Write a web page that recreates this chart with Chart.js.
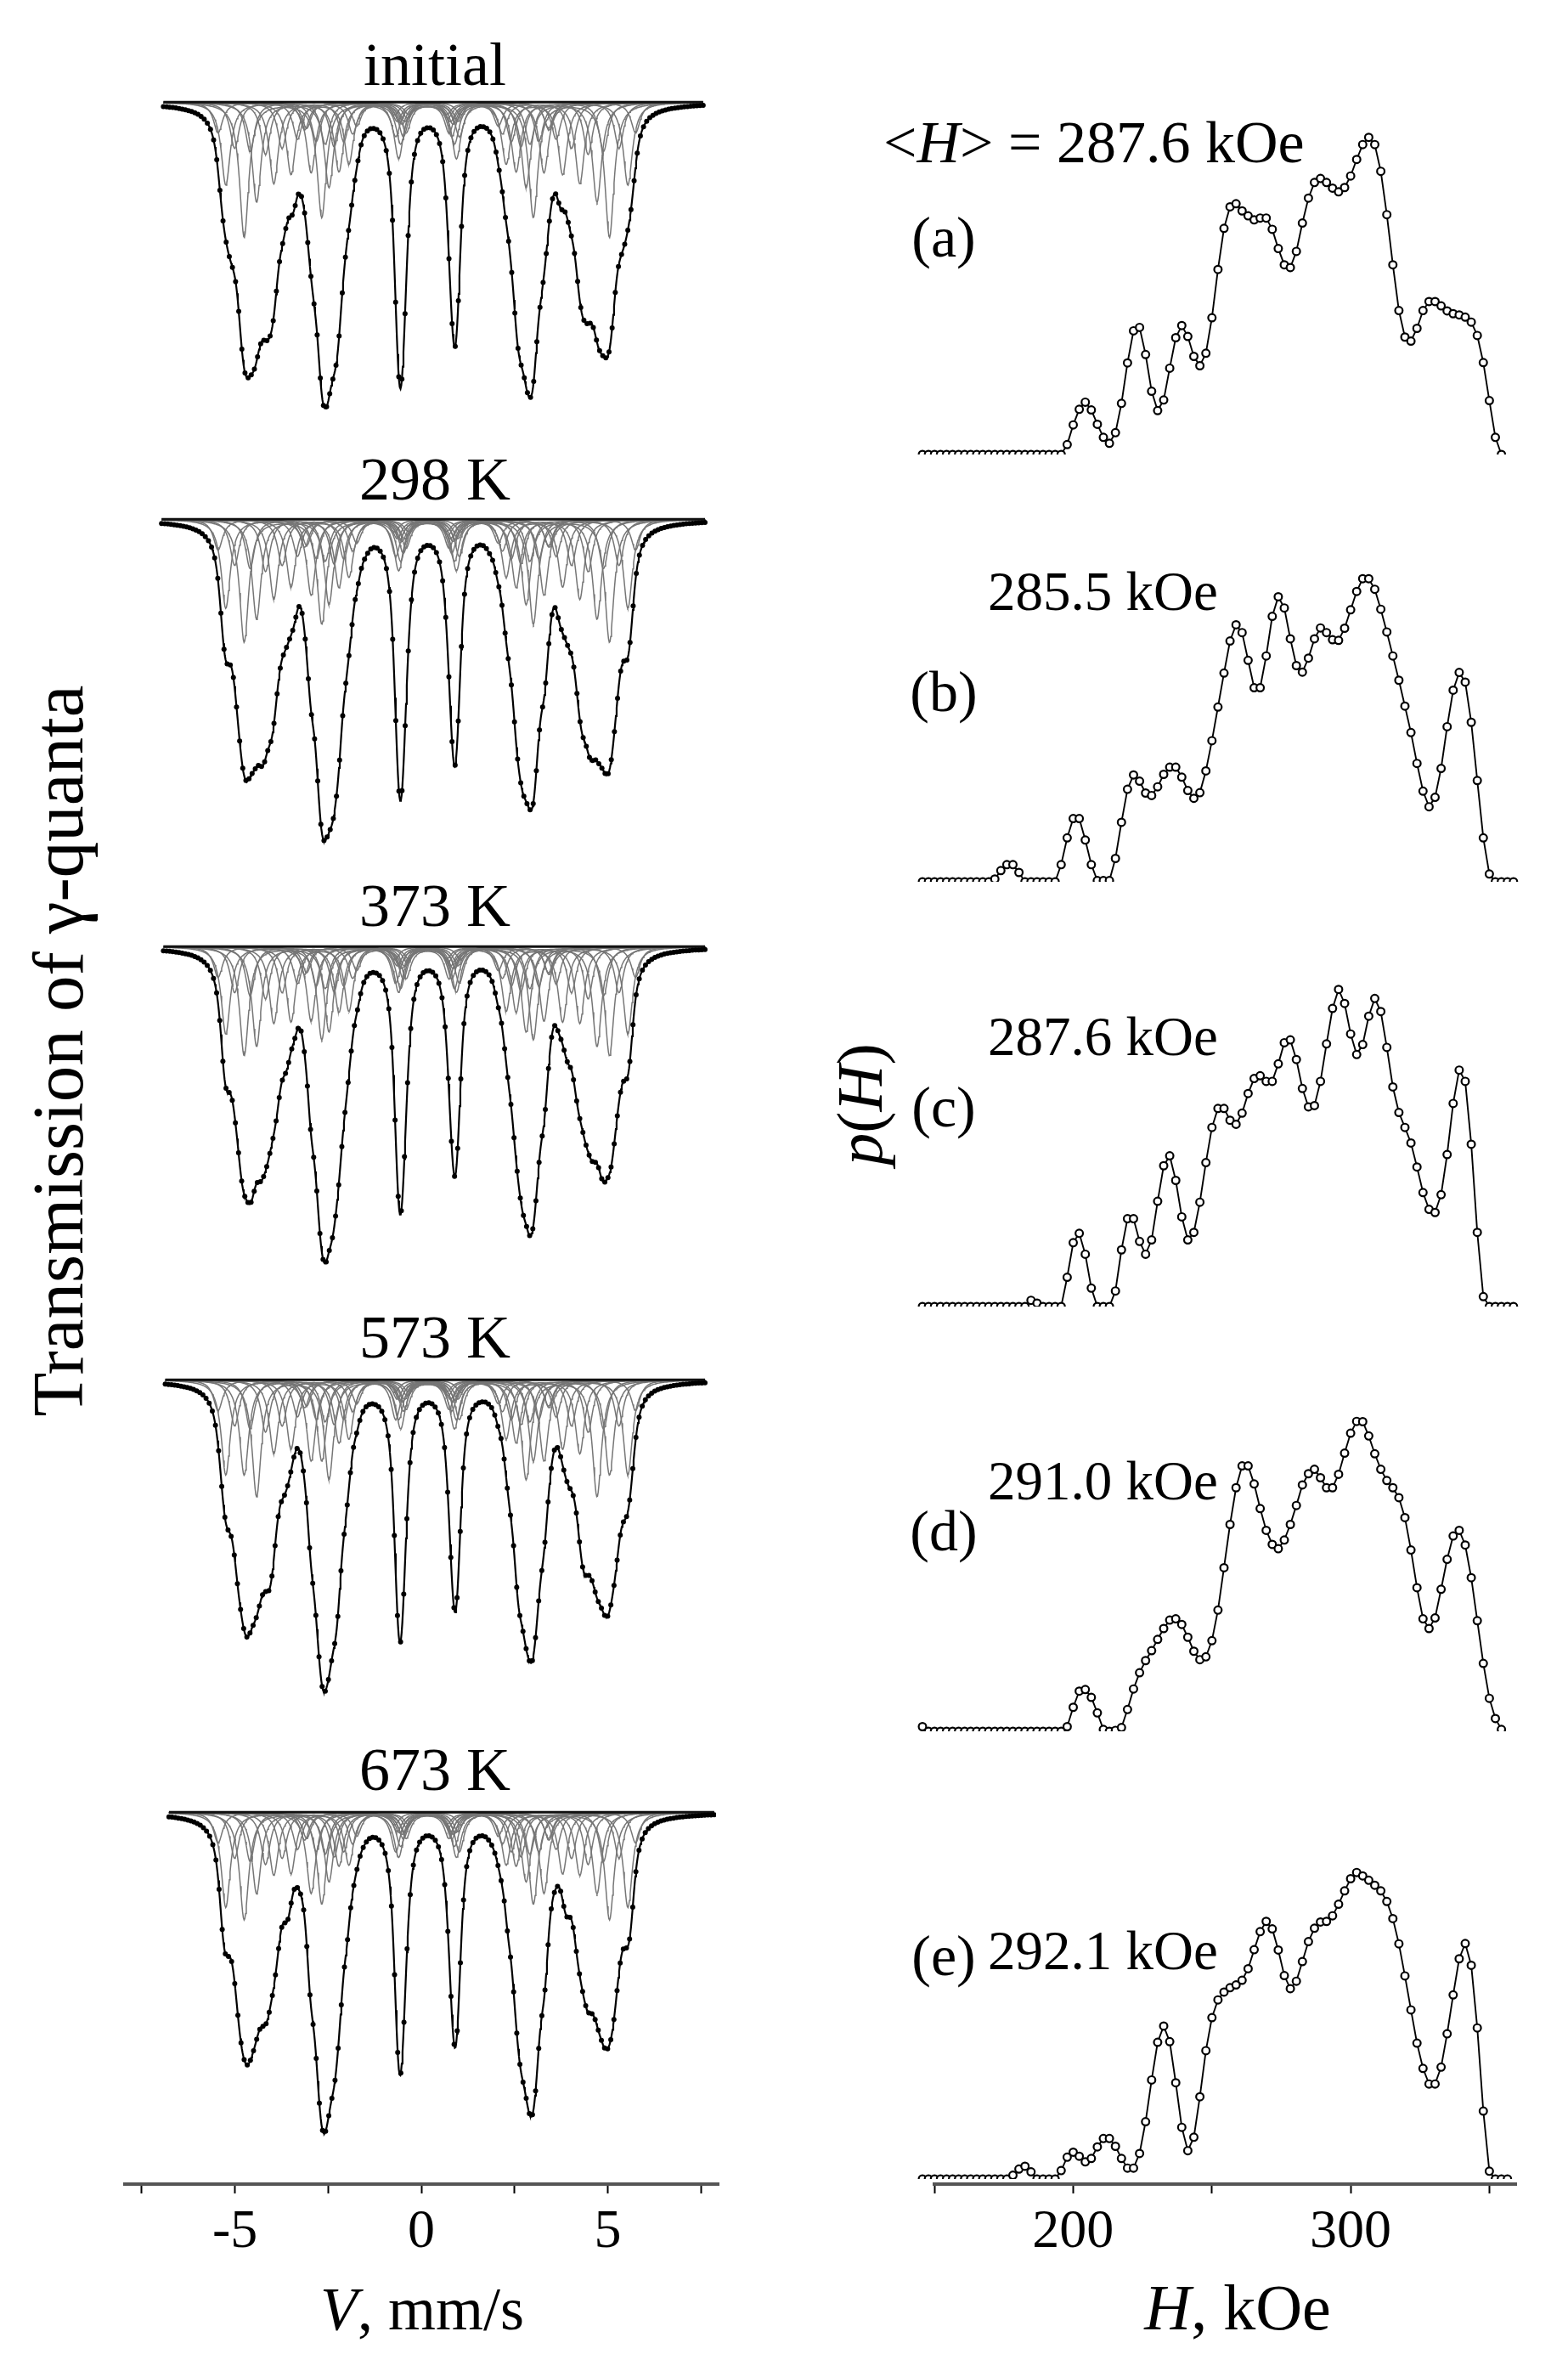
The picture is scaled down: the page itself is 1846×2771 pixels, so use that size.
<!DOCTYPE html>
<html>
<head>
<meta charset="utf-8">
<title>Mossbauer spectra and hyperfine field distributions</title>
<script src="https://cdn.jsdelivr.net/npm/chart.js@4.4.1/dist/chart.umd.min.js"></script>
<style>
  html, body { margin: 0; padding: 0; background: #fff; }
  #page { position: relative; width: 1846px; height: 2771px; overflow: hidden; background: #fff;
          font-family: "Liberation Serif", "Times New Roman", serif; color: #000; }
  #page canvas { position: absolute; }
  .lbl { position: absolute; white-space: nowrap; line-height: 1; }
</style>
</head>
<body>
<div id="page"></div>
<script>
// ---------- values ----------
const PANEL_TITLES = ['initial', '298 K', '373 K', '573 K', '673 K'];
const PANEL_TAGS = ['(a)', '(b)', '(c)', '(d)', '(e)'];
const MEAN_FIELD = ['287.6', '285.5', '287.6', '291.0', '292.1'];

// p(H) is sampled on H = H_START + i * H_STEP (kOe)
const H_START = 150;
const H_STEP = 2.13;

const pH_a = [0,0,0,0,0,0,0,0,0,0, 0,0,0,0,0,0,0,0,0,0, 0,0,0,0,
    3.2, 9.5, 14.5, 16.8, 14.3, 9.7, 5.5, 3.6, 7.0, 16.4,
    29.4, 39.7, 40.8, 32.1, 20.3, 14.1, 17.5, 27.7, 37.5, 41.4,
    37.9, 31.5, 28.5, 32.5, 43.9, 59.4, 72.6, 79.5, 80.5, 78.2,
    76.6, 75.3, 75.9, 75.9, 72.3, 66.1, 60.9, 60.0, 65.2, 74.3,
    82.3, 87.3, 88.6, 87.3, 85.5, 84.3, 85.7, 89.4, 94.7, 99.5,
    101.8, 99.5, 90.9, 77.0, 60.9, 46.2, 37.7, 36.4, 40.5, 46.2,
    49.1, 49.1, 47.7, 46.1, 45.2, 44.8, 44.1, 42.5, 38.2, 29.5,
    17.3, 5.5, 0];
const pH_b = [0,0,0,0,0,0,0,0,0,0, 0,0,
    0.9, 3.6, 5.5, 5.5, 3.0,
    0,0,0,0,0,0,
    5.5, 14.1, 20.3, 20.3, 13.4, 5.5, 0.4, 0.4, 0.4, 7.5,
    19.1, 29.7, 34.3, 32.3, 28.5, 27.7, 30.5, 34.5, 36.8, 36.8,
    33.6, 29.3, 26.8, 28.6, 35.6, 45.3, 56.1, 67.0, 77.3, 82.5,
    80.0, 71.1, 62.3, 62.3, 72.5, 85.2, 91.5, 87.9, 78.0, 69.4,
    67.3, 71.8, 78.0, 81.5, 80.0, 77.7, 77.5, 81.4, 87.3, 93.2,
    97.3, 97.3, 93.9, 87.5, 80.2, 72.5, 64.7, 56.4, 47.9, 38.0,
    29.1, 24.1, 27.1, 36.4, 49.8, 61.5, 67.2, 64.1, 51.2, 32.5,
    14.1, 2.5,
    0, 0, 0, 0];
const pH_c = [0,0,0,0,0,0,0,0,0,0, 0,0,0,0,0,0,0,0,
    2.0, 1.1,
    0, 0, 0, 0,
    9.4, 20.5, 23.5, 16.8, 5.9, 0, 0, 0, 5.0, 18.2,
    28.2, 28.2, 20.9, 16.8, 21.4, 33.8, 45.2, 48.4, 40.5, 28.8,
    21.4, 23.8, 33.5, 46.2, 57.5, 63.6, 63.6, 59.8, 58.5, 62.1,
    68.4, 73.2, 74.1, 72.3, 72.3, 77.9, 84.7, 85.6, 79.3, 70.0,
    64.1, 64.5, 72.3, 84.3, 95.7, 101.8, 97.3, 87.5, 80.9, 84.1,
    93.2, 98.9, 94.7, 83.2, 70.5, 62.3, 57.5, 52.5, 44.8, 36.6,
    31.2, 30.2, 35.9, 48.8, 65.2, 75.9, 72.3, 52.1, 23.8, 3.2,
    0, 0, 0, 0, 0];
const pH_d = [1.5,
    0,0,0,0,0,0,0,0,0,0, 0,0,0,0,0,0,0,0,0,0, 0,0,0,
    1.5, 7.7, 12.9, 13.4, 10.9, 5.9, 0.6, 0, 0.3, 1.2,
    7.0, 13.6, 18.8, 22.7, 25.9, 29.5, 33.0, 35.7, 36.1, 34.3,
    30.2, 25.7, 23.0, 23.9, 29.1, 38.9, 52.5, 66.4, 78.2, 85.2,
    85.2, 79.4, 71.5, 64.5, 60.0, 58.6, 61.4, 66.4, 72.5, 79.1,
    82.7, 84.1, 81.4, 78.2, 78.2, 82.5, 89.3, 95.7, 99.5, 99.4,
    94.8, 89.1, 84.1, 80.5, 78.2, 75.0, 68.6, 58.2, 46.1, 36.1,
    33.0, 36.4, 45.6, 55.2, 62.7, 64.5, 59.8, 49.3, 35.5, 21.8,
    10.6, 4.1, 0.6];
const pH_e = [0,0,0,0,0,0,0,0,0,0, 0,0,0,0,0,
    1.2, 3.2, 4.1, 2.3,
    0, 0, 0, 0,
    2.7, 7.0, 8.6, 7.3, 5.5, 6.6, 10.3, 13.0, 13.0, 10.5,
    6.6, 3.5, 3.5, 8.2, 18.4, 31.8, 43.9, 49.1, 44.1, 30.9,
    16.6, 9.1, 13.4, 26.4, 41.2, 51.8, 57.5, 60.0, 61.4, 62.3,
    63.8, 67.5, 73.6, 79.4, 82.7, 80.3, 73.5, 65.3, 61.1, 63.5,
    69.8, 76.2, 80.5, 82.5, 82.7, 84.5, 88.2, 92.5, 96.4, 98.4,
    97.3, 95.9, 94.3, 92.5, 89.1, 83.6, 75.5, 65.2, 54.3, 43.6,
    35.5, 30.5, 30.5, 35.9, 46.6, 59.1, 70.7, 75.6, 68.6, 48.5,
    21.8, 2.5,
    0, 0, 0];

// velocity span of the measured channels, mm/s
const VEL_SPAN = [[-7.0, 7.65], [-7.05, 7.7], [-7.0, 7.7], [-6.95, 7.7], [-6.85, 7.95]];

// depth of the six absorption minima (% of the baseline), lines 1..6
const DEPTH_a = [18.0, 20.0, 18.7, 16.0, 19.3, 16.7];
const DEPTH_b = [17.1, 21.0, 18.4, 16.1, 19.0, 16.7];
const DEPTH_c = [16.8, 20.7, 17.5, 15.0, 18.9, 15.4];
const DEPTH_d = [16.8, 20.4, 17.2, 15.2, 18.5, 15.5];
const DEPTH_e = [16.5, 21.0, 17.2, 15.4, 19.9, 15.5];

// centre shift and quadrupole shift of the sextets, mm/s
const ISOMER_SHIFT = 0.16;
const QUAD_SHIFT = -0.01;

// gray partial sextets: field (kOe) and depth of the outer line (%)
const SUB_FIELDS = [206, 218, 229, 244, 258, 272, 287, 298, 308, 324, 339, 352];
const SUB_a = [1.8, 2.4, 4.7, 3.0, 5.3, 3.4, 6.5, 3.2, 8.8, 3.0, 5.4, 2.0];
const SUB_b = [1.8, 2.4, 4.4, 3.0, 5.2, 3.4, 6.5, 3.2, 8.0, 3.0, 5.8, 2.0];
const SUB_c = [1.8, 2.4, 4.9, 3.0, 5.0, 3.4, 6.5, 3.2, 7.1, 3.0, 5.7, 2.0];
const SUB_d = [1.8, 2.4, 4.5, 3.0, 4.8, 3.4, 7.6, 3.2, 6.2, 3.0, 6.2, 2.0];
const SUB_e = [1.8, 2.4, 4.0, 3.0, 4.1, 3.4, 5.3, 3.2, 7.0, 3.0, 6.2, 2.0];
const SUB_RATIO = [1, 0.85, 0.41, 0.41, 0.85, 1];

// axis ticks
const V_TICKS = [-7.5, -5, -2.5, 0, 2.5, 5, 7.5];
const V_LABELS = ['-5', '0', '5'];
const H_TICKS = [150, 200, 250, 300, 350];
const H_LABELS = ['200', '300'];

// ---------- layout (px) ----------
const LEFT_X0 = 145, LEFT_W = 702;          // v = -8 .. 8
const RIGHT_X0 = 1086, RIGHT_W = 700;       // H = 150 .. 360
const SPEC_BASE = [117, 608, 1111, 1621, 2130];   // baseline of each spectrum
const DIST_BASE = [535, 1038, 1538, 2038, 2565];  // zero line of each p(H)
const PX_PER_PCT = 18.33;
const PX_PER_P = 3.667;
const AXIS_Y = 2571;

Chart.defaults.font.family = '"Liberation Serif", "Times New Roman", serif';
Chart.defaults.animation = false;

const page = document.getElementById('page');
const PH = [pH_a, pH_b, pH_c, pH_d, pH_e];
const DEPTHS = [DEPTH_a, DEPTH_b, DEPTH_c, DEPTH_d, DEPTH_e];
const SUBS = [SUB_a, SUB_b, SUB_c, SUB_d, SUB_e];

function makeCanvas(left, top, width, height) {
    const c = document.createElement('canvas');
    c.width = width;
    c.height = height;
    c.style.left = left + 'px';
    c.style.top = top + 'px';
    c.style.width = width + 'px';
    c.style.height = height + 'px';
    page.appendChild(c);
    return c;
}

function addText(html, x, yBase, size, center) {
    const d = document.createElement('div');
    d.className = 'lbl';
    d.innerHTML = html;
    d.style.fontSize = size + 'px';
    d.style.left = x + 'px';
    d.style.top = (yBase - 0.8375 * size) + 'px';
    if (center) d.style.transform = 'translateX(-50%)';
    page.appendChild(d);
}

function addVertical(html, cx, cy, size) {
    const d = document.createElement('div');
    d.className = 'lbl';
    d.innerHTML = html;
    d.style.fontSize = size + 'px';
    d.style.left = cx + 'px';
    d.style.top = cy + 'px';
    d.style.transform = 'translate(-50%,-50%) rotate(-90deg)';
    page.appendChild(d);
}

// ---------- sextet line shapes ----------
const LINE_COEF = [-5.312, -3.076, -0.840, 0.840, 3.076, 5.312].map(c => c / 330);
const LINE_SHIFT = [1, -1, -1, -1, -1, 1].map(s => ISOMER_SHIFT + s * QUAD_SHIFT);
const ENV_WIDTH = 0.25;
const SUB_WIDTH = 0.30;

function lor(x, w) {
    const h = w / 2;
    return h * h / (x * x + h * h);
}

function velGrid(v0, v1, step) {
    const n = Math.round((v1 - v0) / step);
    const out = [];
    for (let i = 0; i <= n; i++) out.push(v0 + (v1 - v0) * i / n);
    return out;
}

// absorption of one line summed over the field distribution
function lineBasis(p, i, v) {
    let s = 0;
    for (let j = 0; j < p.length; j++) {
        if (p[j] <= 0) continue;
        s += p[j] * lor(v - LINE_SHIFT[i] - LINE_COEF[i] * (H_START + j * H_STEP), ENV_WIDTH);
    }
    return s;
}

// scale the six lines so the minima reach the depths
function envelope(p, depth) {
    const w = [1, 1, 1, 1, 1, 1];
    const centres = [];
    for (let i = 0; i < 6; i++) {
        let best = -1, bv = 0;
        for (const v of velGrid(-7, 7.6, 0.02)) {
            const b = lineBasis(p, i, v);
            if (b > best) { best = b; bv = v; }
        }
        centres.push(bv);
    }
    const absorb = v => w.reduce((s, wi, i) => s + wi * lineBasis(p, i, v), 0);
    for (let it = 0; it < 10; it++) {
        for (let i = 0; i < 6; i++) {
            let m = 0;
            for (const v of velGrid(centres[i] - 0.4, centres[i] + 0.4, 0.02)) m = Math.max(m, absorb(v));
            w[i] *= depth[i] / m;
        }
    }
    return absorb;
}

function subSextet(H, v) {
    let s = 0;
    for (let i = 0; i < 6; i++) s += SUB_RATIO[i] * lor(v - LINE_SHIFT[i] - LINE_COEF[i] * H, SUB_WIDTH);
    return s;
}

const hidden = { display: false };

// ---------- left column: spectra ----------
PH.forEach((p, k) => {
    const [v0, v1] = VEL_SPAN[k];
    const absorb = envelope(p, DEPTHS[k]);
    const fine = velGrid(v0, v1, 0.02);
    const chan = velGrid(v0, v1, 0.085);
    const datasets = [];
    datasets.push({
        data: chan.map(v => ({ x: v, y: 100 - absorb(v) })),
        showLine: false, pointRadius: 3.0, pointBorderWidth: 0,
        pointBackgroundColor: '#000', order: 0
    });
    datasets.push({
        data: fine.map(v => ({ x: v, y: 100 - absorb(v) })),
        borderColor: '#000', borderWidth: 2.2, pointRadius: 0, order: 1
    });
    // baseline of the spectrum
    datasets.push({
        data: [{ x: v0, y: 100 }, { x: v1, y: 100 }],
        borderColor: '#111', borderWidth: 3, pointRadius: 0, order: 1
    });
    SUB_FIELDS.forEach((H, m) => {
        datasets.push({
            data: fine.map(v => ({ x: v, y: 100 - SUBS[k][m] * subSextet(H, v) })),
            borderColor: '#767676', borderWidth: 1.5, pointRadius: 0, order: 2
        });
    });

    const top = SPEC_BASE[k] - 40, height = 470;
    const yMax = 100 + 40 / PX_PER_PCT;
    new Chart(makeCanvas(LEFT_X0, top, LEFT_W, height), {
        type: 'line',
        data: { datasets },
        options: {
            responsive: false, events: [], parsing: false,
            layout: { padding: 0 },
            plugins: { legend: hidden, tooltip: { enabled: false } },
            scales: {
                x: { type: 'linear', display: false, min: -8, max: 8 },
                y: { display: false, min: yMax - height / PX_PER_PCT, max: yMax }
            }
        }
    });

    addText(PANEL_TITLES[k], 512, SPEC_BASE[k] - [17, 20, 21, 23, 23][k], 72, true);
});

// ---------- right column: p(H) ----------
PH.forEach((p, k) => {
    const pad = 8, h = 400;
    const yMax = h / PX_PER_P;
    new Chart(makeCanvas(RIGHT_X0 - pad, DIST_BASE[k] - h - pad, RIGHT_W + 2 * pad, h + 2 * pad), {
        type: 'line',
        data: {
            datasets: [{
                data: p.map((val, i) => ({ x: H_START + i * H_STEP, y: val })),
                borderColor: '#000', borderWidth: 1.9,
                pointRadius: 4.4, pointBorderWidth: 2.2,
                pointBorderColor: '#000', pointBackgroundColor: '#fff',
                clip: { left: pad, top: pad, right: pad, bottom: 0 }
            }]
        },
        options: {
            responsive: false, events: [], parsing: false,
            layout: { padding: { left: pad, right: pad, top: pad, bottom: pad } },
            plugins: { legend: hidden, tooltip: { enabled: false } },
            scales: {
                x: { type: 'linear', display: false, min: 150, max: 360 },
                y: { display: false, min: 0, max: yMax }
            }
        }
    });
});

// ---------- bottom axes ----------
function bottomAxis(x0, w, min, max, tickVals, labels) {
    new Chart(makeCanvas(x0, AXIS_Y - 10, w, 210), {
        type: 'line',
        data: { datasets: [] },
        options: {
            responsive: false, events: [],
            layout: { padding: 0 },
            plugins: { legend: hidden, tooltip: { enabled: false } },
            scales: {
                x: {
                    type: 'linear', position: 'bottom', min, max,
                    afterBuildTicks: s => { s.ticks = tickVals.map(v => ({ value: v })); },
                    afterFit: s => { s.height = 200; },
                    ticks: {
                        autoSkip: false, maxRotation: 0, padding: 14, color: '#000',
                        font: { size: 64, lineHeight: 1 },
                        callback: v => labels.includes(String(v)) ? String(v) : ''
                    },
                    grid: { drawOnChartArea: false, drawTicks: true, tickLength: 11,
                            tickColor: '#000', tickWidth: 2 },
                    border: { display: true, color: '#555', width: 4 }
                },
                y: { display: false, min: 0, max: 1 }
            }
        }
    });
}
bottomAxis(LEFT_X0, LEFT_W, -8, 8, V_TICKS, V_LABELS);
bottomAxis(RIGHT_X0, RIGHT_W, 150, 360, H_TICKS, H_LABELS);

// ---------- labels ----------
addText('<i>V</i>, mm/s', 497, 2742, 72, true);
addText('<i>H</i>, kOe', 1457, 2742, 76, true);
addVertical('Transmission of &gamma;-quanta', 68, 1237, 85);
addVertical('<i>p</i>(<i>H</i>)', 1012, 1300, 76);

const TAG_BASE = [302, 837, 1326, 1825, 2325];
PANEL_TAGS.forEach((t, k) => addText(t, 1111, TAG_BASE[k], 68, true));

addText('&lt;<i>H</i>&gt; = ' + MEAN_FIELD[0] + ' kOe', 1040, 192, 70, false);
const FIELD_BASE = [192, 718, 1242, 1765, 2318];
for (let k = 1; k < 5; k++) addText(MEAN_FIELD[k] + ' kOe', 1163, FIELD_BASE[k], 65, false);
</script>
</body>
</html>
